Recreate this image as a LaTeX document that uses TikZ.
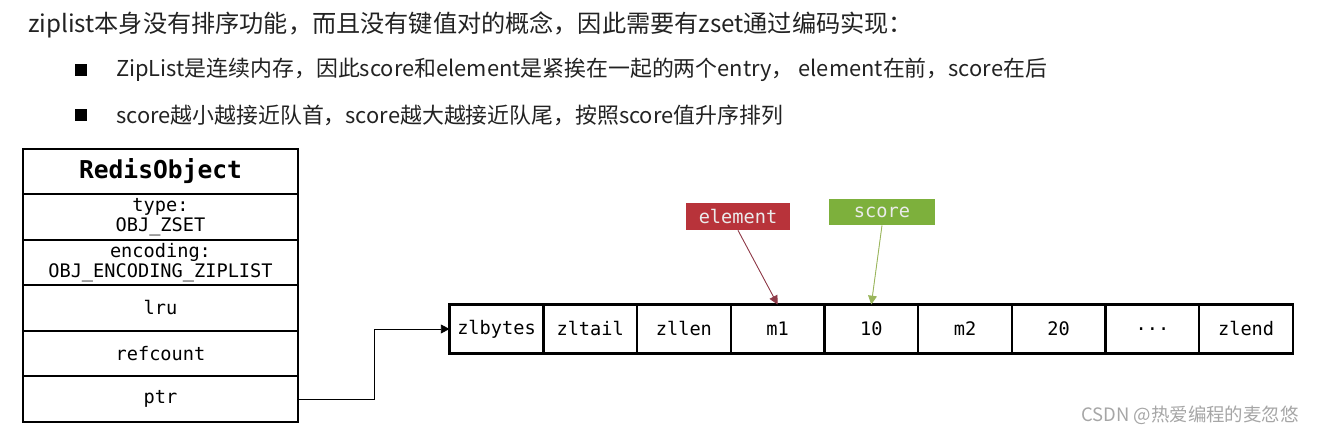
\documentclass[tikz,border=0pt]{standalone}
\usepackage{fontspec}
\setmonofont{DejaVu Sans Mono}
\newfontfamily\cjk{Noto Sans CJK SC}
\usepackage{tikz}
\usetikzlibrary{positioning, arrows.meta}

\definecolor{elemred}{HTML}{B8333A}
\definecolor{elemline}{HTML}{8E3A48}
\definecolor{scoregreen}{HTML}{7DB03C}
\definecolor{scoreline}{HTML}{9AB55C}
\definecolor{textgray}{HTML}{222222}

\newcommand\zdots{...}

\tikzset{
  field/.style={draw, line width=1.4pt, outer sep=0pt, minimum width=5.5cm,
    minimum height=0.91cm, inner sep=0pt, align=center, font=\ttfamily\fontsize{10.6}{11.6}\selectfont},
  cell/.style={draw, line width=1.4pt, outer sep=0pt, minimum width=1.874cm,
    minimum height=0.98cm, inner sep=0pt, font=\ttfamily\fontsize{10.6}{12}\selectfont},
  tag/.style={minimum width=2.08cm, minimum height=0.54cm, inner sep=0pt,
    text=white!92!black, font=\ttfamily\fontsize{10.6}{12}\selectfont},
  bulletmark/.style={fill=black, minimum size=0.24cm, inner sep=0pt},
  pointer/.style={-{Triangle[length=5pt,width=5pt]}, line width=0.5pt}
}

\begin{document}
\begin{tikzpicture}
    \useasboundingbox (0,0) rectangle (26.44,-8.76);

    % heading and the two remarks
    \node[anchor=west, text=textgray, font=\cjk\fontsize{13.75}{15}\selectfont] (head) at (0.44,-0.5)
      {ziplist本身没有排序功能，而且没有键值对的概念，因此需要有zset通过编码实现：};
    \node[bulletmark] (b1) at (1.62,-1.4) {};
    \node[bulletmark] (b2) at (1.62,-2.3) {};
    \node[anchor=west, text=textgray, font=\cjk\fontsize{12.45}{14}\selectfont] (t1) at (2.2,-1.4)
      {ZipList是连续内存，因此score和element是紧挨在一起的两个entry， element在前，score在后};
    \node[anchor=west, text=textgray, font=\cjk\fontsize{12.45}{14}\selectfont] (t2) at (2.2,-2.3)
      {score越小越接近队首，score越大越接近队尾，按照score值升序排列};

    % the RedisObject
    \node[field, font=\ttfamily\bfseries\fontsize{14}{16}\selectfont] (obj) at (3.21,-3.43) {RedisObject};
    \node[field, below=0pt of obj] (type) {type:\\OBJ\_ZSET};
    \node[field, below=0pt of type] (enc) {encoding:\\OBJ\_ENCODING\_ZIPLIST};
    \node[field, below=0pt of enc] (lru) {lru};
    \node[field, below=0pt of lru] (ref) {refcount};
    \node[field, below=0pt of ref] (ptr) {ptr};

    % the ziplist entries
    \foreach \i/\t in {1/zlbytes,2/zltail,3/zllen,4/m1,5/10,6/m2,7/20,8/\zdots,9/zlend} {
      \node[cell] (c\i) at ({9.93+(\i-1)*1.874}, -6.58) {\t};
    };

    \draw[pointer] (ptr.east) -- ++(1.52,0) |- (c1.west);

    % element and score tags
    \node[tag, fill=elemred] (element) at (14.76,-4.33) {element};
    \node[tag, fill=scoregreen, minimum width=2.12cm, minimum height=0.52cm] (score) at (17.64,-4.24) {score};
    \draw[pointer, draw=elemline, fill=elemline] (element.south) -- (c4.north);
    \draw[pointer, draw=scoreline, fill=scoreline] (score.south) -- (c5.north);

    \node[anchor=east, text=black!35, font=\cjk\fontsize{10.5}{12}\selectfont] (mark) at (26.1,-8.3)
      {CSDN @热爱编程的麦忽悠};
\end{tikzpicture}
\end{document}
